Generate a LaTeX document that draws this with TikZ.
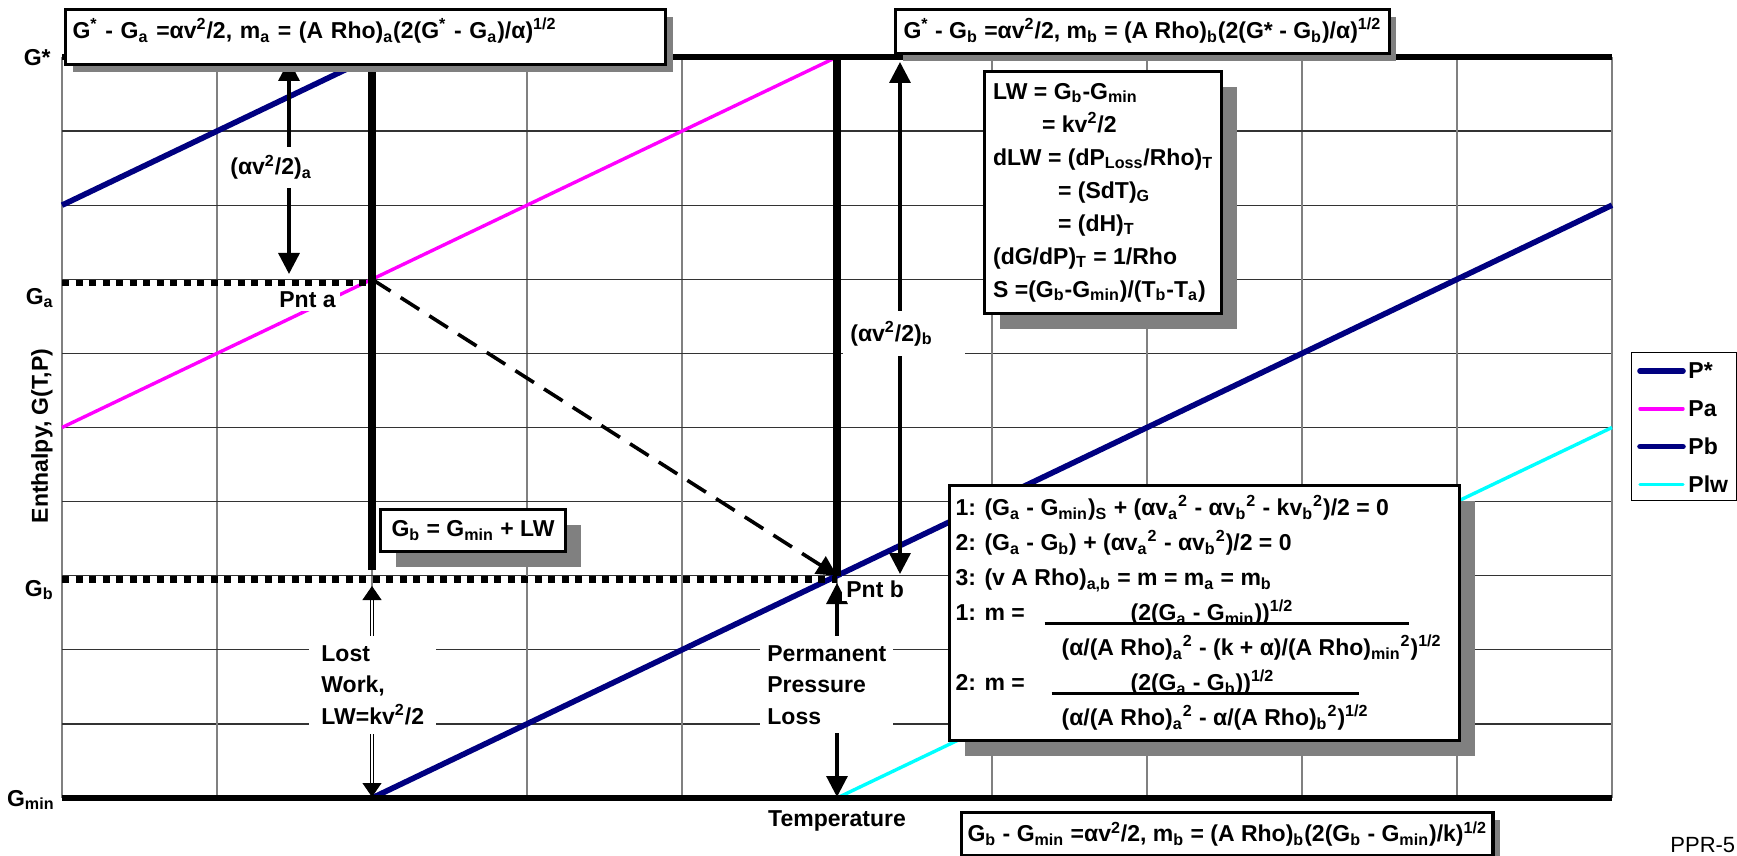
\documentclass[tikz,border=0pt]{standalone}
\usepackage{fontspec}
\setmainfont{Liberation Sans}
\usetikzlibrary{positioning}
\usetikzlibrary{arrows.meta}
\usetikzlibrary{shadows}

\definecolor{pnavy}{RGB}{0,0,128}
\definecolor{pmagenta}{RGB}{255,0,255}
\definecolor{pcyan}{RGB}{0,255,255}

\newcommand{\lo}[1]{\textsubscript{#1}}
\newcommand{\hi}[1]{\textsuperscript{#1}}
\newcommand{\fracbar}[3]{\makebox[0pt][l]{\rule[-2.2pt]{#1}{1.3pt}}\makebox[#1][l]{\hspace*{#2}#3}}

\begin{document}
\begin{tikzpicture}[
        x=0.5pt, y=-0.5pt,
        font=\fontsize{11.5}{16.5}\selectfont\bfseries,
        gridh/.style={black!80, line width=0.6pt},
        gridv/.style={black!50, line width=0.6pt},
        bound/.style={line width=3.3pt},
        marker/.style={line width=3.6pt},
        gline/.style={line width=3.3pt, dash pattern=on 3.5pt off 3.25pt},
        navycurve/.style={pnavy, line width=2.8pt},
        magcurve/.style={pmagenta, line width=1.7pt},
        cyancurve/.style={pcyan, line width=1.7pt},
        dimarrow/.style={{Triangle[length=10.5pt,width=10.5pt]}-{Triangle[length=10.5pt,width=10.5pt]},
                         line width=1.7pt},
        lossarrow/.style={{Triangle[length=7pt,width=9.5pt]}-{Triangle[length=7pt,width=9.5pt]},
                          line width=0.5pt, double=white, double distance=1.3pt},
        patharrow/.style={-{Triangle[length=10pt,width=10pt]}, line width=1.8pt,
                          dash pattern=on 11pt off 6pt},
        notebox/.style={draw, line width=1.6pt, fill=white, align=left, inner xsep=3pt},
        deepshadow/.style={drop shadow={shadow xshift=7.5pt, shadow yshift=-7.5pt,
                           fill=black!50, opacity=1}},
        flatshadow/.style={drop shadow={shadow xshift=3.5pt, shadow yshift=-3.5pt,
                           fill=black!50, opacity=1}},
        tag/.style={fill=white, inner sep=2pt},
        gaptext/.style={fill=white, align=left, font=\fontsize{11.5}{15.75}\selectfont\bfseries},
        keytext/.style={inner sep=2.5pt, minimum height=18.5pt}
    ]
    \useasboundingbox (0,0) rectangle (1737,856);

    % chart area, 10 x 10 cells
    \begin{scope}[shift={(62,798)}, x=77.5pt, y=37.05pt]
        \foreach \i in {0,...,10} {
            \draw[gridh] (0,\i) -- (10,\i);
            \draw[gridv] (\i,0) -- (\i,10);
        }
        \coordinate (ga) at (0,7);
        \coordinate (gb) at (0,3);
        \coordinate (pnta) at (2,7);
        \coordinate (pntb) at (5,3);
        \coordinate (atop) at (2,10);
        \coordinate (btop) at (5,10);
        \coordinate (aend) at (2,3.08);

        \draw[navycurve] (0,8) -- (2,10);
        \draw[magcurve] (0,5) -- (5,10);
        \draw[navycurve] (2,0) -- (10,8);
        \draw[cyancurve] (5,0) -- (10,5);

        \draw[bound] (0,10) -- (10,10);
        \draw[bound] (0,0) -- (10,0);
    \end{scope}

    \draw[gline] ([yshift=-1.75pt]ga) -- ([yshift=-1.75pt]pnta);
    \draw[gline] ([yshift=-1.75pt]gb) -- ([yshift=-1.75pt]pntb);
    \draw[marker] (atop) -- (aend);
    \draw[marker] (btop) -- (pntb);

    \coordinate (dimatop) at (289,60);
    \coordinate (dimabot) at (289,274);
    \coordinate (dimbtop) at (900,62);
    \coordinate (dimbbot) at (900,574);
    \coordinate (lwtop) at (372,586);
    \coordinate (lwbot) at (372,797);
    \coordinate (pltop) at (837,583);
    \coordinate (plbot) at (837,797);

    \draw[dimarrow] (dimatop) -- (dimabot);
    \draw[dimarrow] (dimbtop) -- (dimbbot);
    \draw[lossarrow] (lwtop) -- (lwbot);
    \draw[dimarrow, line width=1.6pt] (pltop) -- (plbot);
    \draw[patharrow] (pnta) -- (pntb);

    % labels
    \node[anchor=base east, inner sep=0pt] (lgstar) at (51,66) {G*};
    \node[anchor=base east, inner sep=0pt] (lga) at (54,304) {G\lo a};
    \node[anchor=base east, inner sep=0pt] (lgb) at (54,596) {G\lo b};
    \node[anchor=base east, inner sep=0pt] (lgmin) at (55,806) {G\lo{min}};
    \node[rotate=90] (ylabel) at (42,436) {Enthalpy, G(T,P)};
    \node[anchor=base] (xlabel) at (837,826) {Temperature};

    \node[tag, anchor=base west] (labela) at (275,307) {Pnt a};
    \node[tag, anchor=base west] (labelb) at (842,597) {Pnt b};
    \node[tag, inner ysep=4.25pt, anchor=base west] (alabel) at (226,175) {(αv\hi2/2)\lo a};
    \node[tag, inner xsep=3.5pt, inner ysep=5pt, anchor=base west] (blabel) at (843,341)
        {(αv\hi2/2)\lo b\hspace*{12.5pt}};
    \node[gaptext, anchor=north west, inner xsep=6pt, inner ysep=4.5pt] (lwtext) at (309,636)
        {Lost\\Work,\\LW=kv\hi2/2};
    \node[gaptext, anchor=north west, inner xsep=3.5pt, inner ysep=4.5pt] (pltext) at (760,636)
        {Permanent\\Pressure\\Loss};

    % boxes
    \node[notebox, flatshadow, anchor=north west, text width=293pt, text height=12pt,
          text depth=10.5pt, inner ysep=2.5pt, inner xsep=3.5pt] (boxa) at (64,8)
        {G\hi{*} - G\lo a =αv\hi2/2, m\lo a = (A Rho)\lo a(2(G\hi{*} - G\lo a)/α)\hi{1/2}};
    \node[notebox, flatshadow, anchor=north west, text height=12pt, text depth=5pt,
          inner ysep=2.5pt, inner xsep=4pt] (boxb) at (894,8)
        {G\hi{*} - G\lo b =αv\hi2/2, m\lo b = (A Rho)\lo b(2(G* - G\lo b)/α)\hi{1/2}};
    \node[notebox, deepshadow, anchor=north west, minimum width=118.5pt, minimum height=121pt]
        (lwbox) at (983,70)
        {LW = G\lo b-G\lo{min}\\
         \hspace*{24.5pt}= kv\hi2/2\\
         dLW = (dP\lo{Loss}/Rho)\lo T\\
         \hspace*{32.5pt}= (SdT)\lo G\\
         \hspace*{32.5pt}= (dH)\lo T\\
         (dG/dP)\lo T = 1/Rho\\
         S =(G\lo b-G\lo{min})/(T\lo b-T\lo a)};
    \node[notebox, deepshadow, anchor=north west, minimum width=92.5pt, minimum height=21pt]
        (gbbox) at (379,508) {G\lo b = G\lo{min} + LW};
    \node[notebox, deepshadow, anchor=north west, text width=249pt, align=flush left,
          minimum height=127.5pt, font=\fontsize{11.5}{17.5}\selectfont\bfseries] (eqbox) at (948,484)
        {1: (G\lo a - G\lo{min})\lo S + (αv\lo a\hi2 - αv\lo b\hi2 - kv\lo b\hi2)/2 = 0\\
         2: (G\lo a - G\lo b) + (αv\lo a\hi2 - αv\lo b\hi2)/2 = 0\\
         3: (v A Rho)\lo{a,b} = m = m\lo a = m\lo b\\
         \makebox[44.5pt][l]{1: m =}\fracbar{182pt}{43pt}{(2(G\lo a - G\lo{min}))\hi{1/2}}\\
         \hspace*{53pt}(α/(A Rho)\lo a\hi2 - (k + α)/(A Rho)\lo{min}\hi2)\hi{1/2}\\
         \makebox[48pt][l]{2: m =}\fracbar{153.5pt}{39.5pt}{(2(G\lo a - G\lo b))\hi{1/2}}\\
         \hspace*{53pt}(α/(A Rho)\lo a\hi2 - α/(A Rho)\lo b\hi2)\hi{1/2}};
    \node[notebox, flatshadow, anchor=north west, minimum width=265.5pt, minimum height=21.5pt]
        (gminbox) at (960,811)
        {G\lo b - G\lo{min} =αv\hi2/2, m\lo b = (A Rho)\lo b(2(G\lo b - G\lo{min})/k)\hi{1/2}};

    % legend
    \node[draw, line width=0.6pt, fill=white, minimum width=52.5pt, minimum height=74pt,
          anchor=north west] (legend) at (1631,352) {};
    \node[keytext, anchor=west] (keystar) at (1683,371) {P*};
    \node[keytext, below=0pt of keystar.south west, anchor=north west] (keya) {Pa};
    \node[keytext, below=0pt of keya.south west, anchor=north west] (keyb) {Pb};
    \node[keytext, below=0pt of keyb.south west, anchor=north west] (keylw) {Plw};
    \draw[navycurve, line cap=round] (keystar.west) -- ++(-43,0);
    \draw[magcurve, line cap=round] (keya.west) -- ++(-43,0);
    \draw[navycurve, line cap=round] (keyb.west) -- ++(-43,0);
    \draw[cyancurve, line cap=round] (keylw.west) -- ++(-43,0);

    \node[anchor=base west, inner sep=0pt, font=\fontsize{11}{14}\selectfont] (pagetag)
        at (1670,852) {PPR-5};
\end{tikzpicture}
\end{document}
